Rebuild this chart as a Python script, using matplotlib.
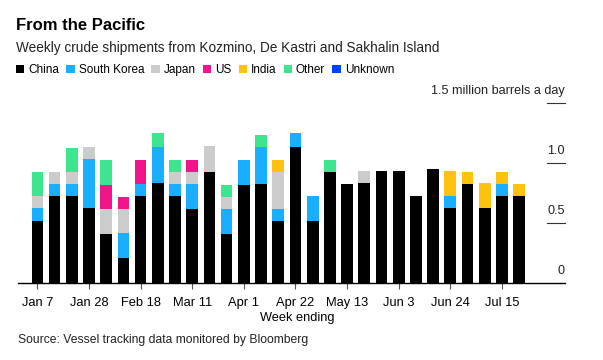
import numpy as np
import pandas as pd
import matplotlib
matplotlib.use("Agg")
import matplotlib.pyplot as plt
import matplotlib.transforms as mtransforms

plt.rcParams['font.family'] = ['Liberation Sans', 'DejaVu Sans']

# weekly shipments, million barrels a day
weeks = pd.date_range("2018-01-07", periods=29, freq="7D")
china = [0.52, 0.73, 0.73, 0.63, 0.41, 0.21, 0.73, 0.84, 0.73, 0.62, 0.93, 0.41, 0.82, 0.83, 0.52,
         1.14, 0.52, 0.93, 0.83, 0.84, 0.94, 0.94, 0.73, 0.95, 0.63, 0.83, 0.63, 0.73, 0.73]
south_korea = [0.11, 0.10, 0.10, 0.41, 0, 0.21, 0.10, 0.30, 0.10, 0.21, 0, 0.21, 0.21, 0.31, 0.10,
               0.11, 0.21, 0, 0, 0, 0, 0, 0, 0, 0.10, 0, 0, 0.10, 0]
japan = [0.10, 0.10, 0.10, 0.10, 0.21, 0.20, 0, 0, 0.10, 0.10, 0.21, 0.10, 0, 0, 0.31,
         0, 0, 0, 0, 0.10, 0, 0, 0, 0, 0, 0, 0, 0, 0]
us = [0, 0, 0, 0, 0.20, 0.10, 0.20, 0, 0, 0.10, 0, 0, 0, 0, 0,
      0, 0, 0, 0, 0, 0, 0, 0, 0, 0, 0, 0, 0, 0]
india = [0, 0, 0, 0, 0, 0, 0, 0, 0, 0, 0, 0, 0, 0, 0.10,
         0, 0, 0, 0, 0, 0, 0, 0, 0, 0.21, 0.10, 0.21, 0.10, 0.10]
other = [0.20, 0, 0.20, 0, 0.21, 0, 0, 0.11, 0.10, 0, 0, 0.10, 0, 0.10, 0,
         0, 0, 0.10, 0, 0, 0, 0, 0, 0, 0, 0, 0, 0, 0]
unknown = [0] * 29

series = [("China", china, "#000000"),
          ("South Korea", south_korea, "#1aaeff"),
          ("Japan", japan, "#cccccc"),
          ("US", us, "#f0158a"),
          ("India", india, "#ffc20e"),
          ("Other", other, "#3fe48e"),
          ("Unknown", unknown, "#0040ff")]

fig = plt.figure(figsize=(6.03, 3.6), dpi=100)
ax = fig.add_axes([18 / 603, 1 - 283.3 / 360, (565 - 18) / 603, 180 / 360])

x = np.arange(len(weeks))
bottom = np.zeros(len(weeks))
handles = []
for name, vals, col in series:
    vals = np.array(vals, dtype=float)
    b = ax.bar(x, vals, bottom=bottom, width=0.68, color=col, label=name, linewidth=0)
    handles.append(b)
    bottom += vals

ax.set_xlim(-1.13, 30.67)
ax.set_ylim(0, 1.5)

for s in ["top", "left", "right"]:
    ax.spines[s].set_visible(False)
ax.spines["bottom"].set_linewidth(1.0)
ax.spines["bottom"].set_color("#000000")

tick_idx = x[::3]
ax.set_xticks(tick_idx)
ax.set_xticklabels([f"{d:%b} {d.day}" for d in weeks[::3]], fontsize=9.3)
ax.tick_params(axis="x", length=4, width=0.8, color="#555555", pad=6)
ax.set_yticks([])

# y labels at the right with short rules under them
trans = mtransforms.blended_transform_factory(ax.transAxes, ax.transData)
for v, lab in [(0, "0"), (0.5, "0.5"), (1.0, "1.0"), (1.5, "1.5 million barrels a day")]:
    if v > 0:
        ax.plot([0.967, 1.0], [v, v], transform=trans, color="#333333", lw=0.8, clip_on=False)
    ax.annotate(lab, xy=(1.0, v), xycoords=trans, xytext=(0, 12), textcoords="offset pixels",
                ha="right", va="center", fontsize=9.1, color="#222222", annotation_clip=False)

fig.text(16 / 603, 1 - 25 / 360, "From the Pacific", fontsize=12, fontweight="bold", va="center")
fig.text(16 / 603, 1 - 48 / 360, "Weekly crude shipments from Kozmino, De Kastri and Sakhalin Island",
         fontsize=9.8, va="center", color="#222222")
fig.legend(handles=handles, loc="center left", bbox_to_anchor=(16 / 603, 1 - 70 / 360), ncol=7,
           frameon=False, fontsize=8.5, handlelength=0.7, handleheight=0.7, handletextpad=0.35,
           columnspacing=0.6, borderaxespad=0, borderpad=0)
fig.text(297 / 603, 1 - 317.7 / 360, "Week ending", fontsize=9.2, ha="center", va="center")
fig.text(18 / 603, 1 - 340 / 360, "Source: Vessel tracking data monitored by Bloomberg",
         fontsize=8.7, va="center", color="#222222")

fig.savefig("out.png", dpi=100)
